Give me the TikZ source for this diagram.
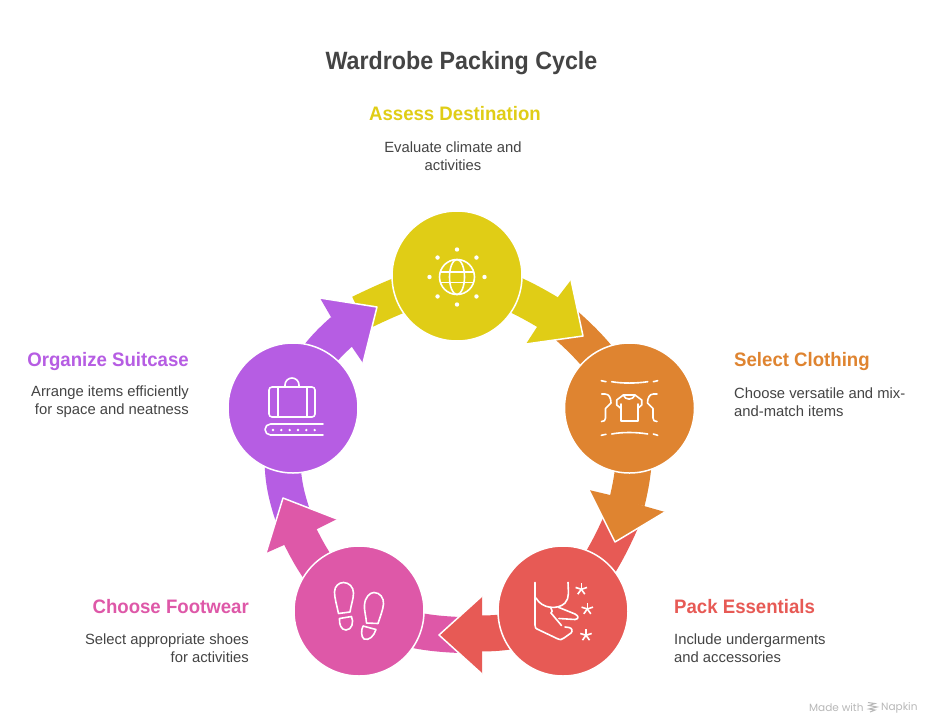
\documentclass[tikz,border=0pt]{standalone}
\usepackage{fontspec}
\setmainfont{Liberation Sans}
\newfontfamily\titlefont[FakeStretch=0.93]{Liberation Sans}
\newfontfamily\headfont[FakeStretch=0.955]{Liberation Sans}
\newfontfamily\markfont{Poppins}
\definecolor{assesscol}{HTML}{E0CD16}
\definecolor{selectcol}{HTML}{DF8430}
\definecolor{packcol}{HTML}{E75A55}
\definecolor{footcol}{HTML}{DE58A8}
\definecolor{suitcol}{HTML}{B65DE3}
\definecolor{inkcol}{HTML}{444444}
\tikzset{
  disc/.style={circle,minimum size=130pt,inner sep=0pt,draw=white,line width=1.5pt,fill=#1},
  band/.style={line width=36pt,#1},
  tipedge/.style={draw=white,line width=1.5pt,line join=round},
  icon/.style={draw=white,line width=1.6pt,line cap=round,line join=round},
  titletext/.style={font=\fontsize{25}{30}\titlefont\bfseries,text=inkcol,inner sep=0pt},
  headtext/.style={font=\fontsize{19.5}{24}\headfont\bfseries,inner sep=0pt},
  bodytext/.style={font=\fontsize{14.8}{18}\selectfont,text=inkcol,inner sep=0pt}
}
\begin{document}
\begin{tikzpicture}[x=1pt,y=-1pt]
\useasboundingbox (0,0) rectangle (932,726);
\fill[white] (0,0) rectangle (932,726);
%Stage centres and band ends
\coordinate (assess) at (457,276);
\coordinate (select) at (629.5,408);
\coordinate (pack) at (563,611);
\coordinate (foot) at (359,611);
\coordinate (suit) at (293,408);
\coordinate (assessin) at (360,313);
\coordinate (assessout) at (549,313);
\coordinate (selectin) at (566,325);
\coordinate (selectout) at (627,502);
\coordinate (packin) at (621,522);
\coordinate (packout) at (480,633.5);
\coordinate (footin) at (460,635);
\coordinate (footout) at (299.5,535);
\coordinate (suitin) at (293,516);
\coordinate (suitout) at (343,330.5);

%Bands
\draw[band=assesscol] (assessin) to[bend left=5] (assess) to[bend left=9] (assessout);
\draw[band=selectcol] (selectin) to[bend left=11] (select) to[bend left=12] (selectout);
\draw[band=packcol] (packin) to[bend left=9] (pack) to[bend left=15] (packout);
\draw[band=footcol] (footin) to[bend left=11] (foot) to[bend left=12] (footout);
\draw[band=suitcol] (suitin) to[bend left=19] (suit) to[bend left=16] (suitout);

%Arrow heads
\fill[assesscol] (558,297)--(571,280)--(583,336)--(526,344)--(537,327)--cycle;
\draw[tipedge] (571,280)--(583,336)--(526,344);
\fill[selectcol] (610,495)--(589,490)--(615,542)--(665,512)--(644,506)--cycle;
\draw[tipedge] (589,490)--(615,542)--(665,512);
\fill[packcol] (482,615)--(482,596)--(439,635)--(482,674)--(482,652)--cycle;
\draw[tipedge] (482,596)--(439,635)--(482,674);
\fill[footcol] (317,529)--(337,519)--(283,498)--(266,553)--(284,545)--cycle;
\draw[tipedge] (337,519)--(283,498)--(266,553);
\fill[suitcol] (331,317)--(320,298)--(377,307)--(363,363)--(352,347)--cycle;
\draw[tipedge] (320,298)--(377,307)--(363,363);

%Discs
\node[disc=assesscol] (assessdisc) at (assess) {};
\node[disc=selectcol] (selectdisc) at (select) {};
\node[disc=packcol] (packdisc) at (pack) {};
\node[disc=footcol] (footdisc) at (foot) {};
\node[disc=suitcol] (suitdisc) at (suit) {};

%Globe
\draw[icon] (457,277) circle (17.5);
\draw[icon] (457,277) ellipse (7.5 and 17.5);
\draw[icon] (441,271.7)--(473,271.7);
\draw[icon] (441,282.3)--(473,282.3);
\foreach \a in {0,45,...,315}
  \fill[white] (457,277)+(\a:27.5) circle (2.2);

%Shirts
\draw[icon] (601.3,380.7)--(606,381.7);
\draw[icon] (611.7,381.7) .. controls (622,383.5) and (636,383.5) .. (647.7,381.7);
\draw[icon] (653.3,381.7)--(657.7,380.7);
\draw[icon] (601.3,435.3)--(606,434.3);
\draw[icon] (611.7,434) .. controls (622,432) and (636,432) .. (647.7,434);
\draw[icon] (653.3,434)--(657.7,435.3);
\draw[icon] (601.7,394)--(605,394) .. controls (609,394) and (611,398) .. (611,403) -- (605.5,408.5) -- (605.5,418) .. controls (605.5,420.5) and (604,421.5) .. (601.5,421.5);
\draw[icon] (657,394)--(653.5,394) .. controls (649.5,394) and (647.5,398) .. (647.5,403) -- (653,408.5) -- (653,418) .. controls (653,420.5) and (654.5,421.5) .. (657,421.5);
\draw[icon] (621,408.5) -- (616.7,405) -- (616.7,400) -- (623.3,395) .. controls (625,400.5) and (633,400.5) .. (635,395) -- (641.7,400) -- (641.7,405) -- (637.7,408.5);
\draw[icon] (621,404)--(621,421)--(637.7,421)--(637.7,404);
\draw[icon] (623.3,395)--(635,395);

%Undergarment
\draw[icon] (535,582.3)--(535,625) .. controls (535,628) and (536,628.5) .. (537,629) -- (557,638.5) .. controls (560,640) and (562,640) .. (564,638) -- (571,633) .. controls (573,631) and (572,628) .. (569,627.5) -- (565,627);
\draw[icon] (551,613)--(561.5,625.5);
\draw[icon] (536,598) .. controls (542,609) and (558,610) .. (565,603) .. controls (570,598) and (568,590) .. (568,582.3);
\draw[icon] (550.7,607.3) .. controls (552,611) and (553,612) .. (551,613);
\draw[icon] (558.5,607.3)--(575,614) .. controls (579,616) and (579,619) .. (575,619.5) -- (559,618.5);
\foreach \x/\y in {581.3/589.3,587.3/609,586/635.3}
  \foreach \a in {-90,-18,54,126,198}
    \draw[white,line width=1.6pt] (\x,\y)--+(\a:6);

%Footprints
\draw[icon] (338.5,613.5) .. controls (337,606) and (334.5,598) .. (334.5,592) .. controls (334.5,586) and (339,582.5) .. (343.5,582.5) .. controls (349,582.5) and (353.5,587) .. (353.5,593) .. controls (353.5,599) and (351,605) .. (350,612) -- cycle;
\draw[icon] (339.5,618.5)--(351.5,616.5) .. controls (354,622) and (352,630) .. (346,630) .. controls (341,630) and (339,624) .. (339.5,618.5);
\draw[icon] (366.5,623) .. controls (366,616) and (364,610) .. (364.5,605) .. controls (365,597) and (370,592.5) .. (374,592.5) .. controls (380,592.5) and (384,598) .. (383.5,604) .. controls (383,610) and (380,617) .. (378,623.5) -- cycle;
\draw[icon] (363,626)--(376,629.5) .. controls (374,636) and (369,641) .. (364,639) .. controls (361,637) and (361,630) .. (363,626);

%Suitcase
\draw[icon,rounded corners=3pt] (269,387) rectangle (315,417);
\draw[icon] (278,387)--(278,417);
\draw[icon] (307,387)--(307,417);
\draw[icon] (285,387)--(285,385) arc (180:360:7) -- (299,387);
\draw[icon] (323,424)--(270.5,424) arc (270:90:5.5) -- (323,435);
\foreach \x in {273,281.3,289.7,298,306.3,314.7}
  \fill[white] (\x,430) circle (1.3);

%Texts
\node[titletext] (title) at (461.5,63.5) {Wardrobe Packing Cycle};
\node[headtext,text=assesscol] (assesshead) at (455,114) {Assess Destination};
\node[bodytext,align=center] (assessbody) at (453,156) {Evaluate climate and\\activities};
\node[headtext,text=selectcol,anchor=west] (selecthead) at (734,361.5) {Select Clothing};
\node[bodytext,align=left,anchor=west] (selectbody) at (734,402) {Choose versatile and mix-\\and-match items};
\node[headtext,text=packcol,anchor=west] (packhead) at (674,607) {Pack Essentials};
\node[bodytext,align=left,anchor=west] (packbody) at (674,648) {Include undergarments\\and accessories};
\node[headtext,text=footcol,anchor=east] (foothead) at (249,607) {Choose Footwear};
\node[bodytext,align=right,anchor=east] (footbody) at (249,648) {Select appropriate shoes\\for activities};
\node[headtext,text=suitcol,anchor=east] (suithead) at (189,361.5) {Organize Suitcase};
\node[bodytext,align=right,anchor=east] (suitbody) at (189,402) {Arrange items efficiently\\for space and neatness};

%Mark
\node[font=\fontsize{10.5}{12}\markfont,text=black!28,inner sep=0pt,anchor=west] (made) at (809,708) {Made with};
\node[font=\fontsize{10.5}{12}\markfont,text=black!28,inner sep=0pt,anchor=west] (brand) at (881,708) {Napkin};
\draw[black!28,line width=1pt] (868,702.5)--(875,703.5)--(869,705.5)--(877,707)--(869,709)--(875,710)--(870,712);
\end{tikzpicture}
\end{document}
